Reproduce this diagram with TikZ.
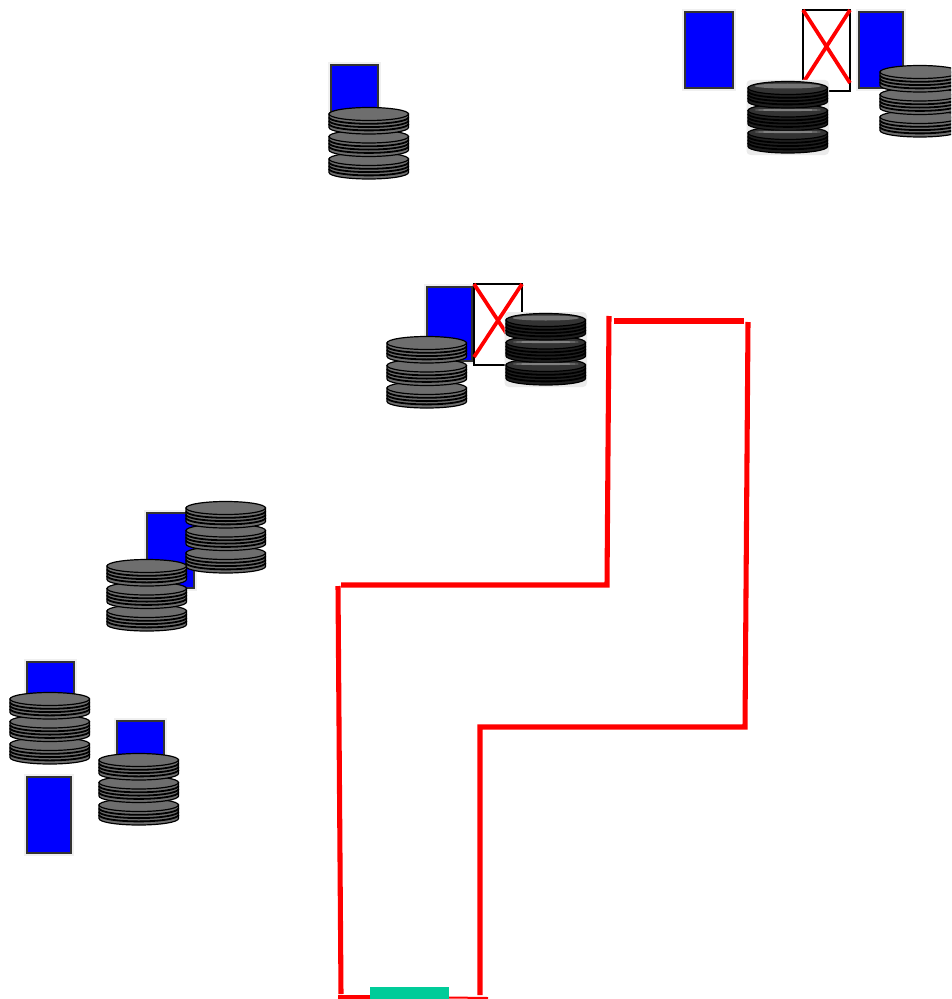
\documentclass[tikz,border=0pt]{standalone}
\usepackage{tikz}
\definecolor{rack}{HTML}{0000FF}
\definecolor{link}{HTML}{FF0000}
\definecolor{door}{HTML}{00CC99}
\definecolor{disk}{HTML}{6E6E6E}
\tikzset{
  sc/.style={x=.75pt,y=-.75pt,line width=.75pt},
  haloa/.style={draw=black!6,line width=4.5pt},
  halob/.style={draw=black!14,line width=2.2pt},
  rack/.style={fill=rack,draw=black!80,line width=.8pt},
  wire/.style={link,line width=3.8pt},
  cross/.style={link,line width=2.8pt},
  emptyrack/.style={draw=black,line width=1.3pt,fill=white},
  % one stack of three drums, (0,0) being its top left corner
  pics/drums/.style args={#1/#2/#3/#4}{code={
    \foreach \dy in {45,22.5,0}{
      \fill[#1,draw=#3,line width=#2] (0,7+\dy) -- (0,20.5+\dy) arc[x radius=39.75,y radius=6.5,start angle=180,end angle=0] -- (79.5,7+\dy) -- cycle;
      \foreach \s in {10.3,13.6,16.9}{\draw[#3,line width=1.35pt] (0,\s+\dy) arc[x radius=39.75,y radius=6.5,start angle=180,end angle=0];}
      \fill[#4,draw=#3,line width=#2] (39.75,7+\dy) ellipse[x radius=39.75,y radius=6.5];
    }
  }},
  pics/drums/.default=disk/.9pt/black/disk,
}
\newcommand{\rackbox}[4]{\draw[haloa] (#1,#2) rectangle (#3,#4);\draw[halob] (#1,#2) rectangle (#3,#4);\draw[rack] (#1,#2) rectangle (#3,#4);}
\newcommand{\deadrack}[4]{\draw[emptyrack] (#1,#2) rectangle (#3,#4);\draw[cross] (#1,#2)--(#3,#4-8) (#3,#2)--(#1,#4-8);}
\newcommand{\blurdrums}[2]{%
  \fill[black!8,rounded corners=3pt] (#1-1.5,#2) rectangle (#1+81,#2+75);
  \pic at (#1,#2+1) {drums={black!88/.9pt/black/black!80}};
  \fill[black!55] (#1+39.75,#2+6) ellipse[x radius=33,y radius=2.5];
  \foreach \dy in {30,52}{\fill[black!50] (#1+39.75,#2+\dy) ellipse[x radius=33,y radius=1.1];}
}
\begin{document}
\begin{tikzpicture}[sc]
  \useasboundingbox (0,0) rectangle (951,999);
  % top right group
  \rackbox{685}{12}{733}{88}
  \deadrack{803}{10}{850}{91}
  \rackbox{859}{12}{903}{88}
  \blurdrums{748}{80}
  \begin{scope}
    \clip (0,0) rectangle (951,999);
    \pic at (880,65) {drums};
  \end{scope}
  % upper middle
  \rackbox{331}{65}{378}{112}
  \pic at (329,107) {drums};
  % centre
  \rackbox{427}{287}{472}{361}
  \deadrack{474}{284}{522}{365}
  \pic at (387,336) {drums};
  \blurdrums{506}{312}
  % left groups
  \rackbox{147}{513}{194}{588}
  \pic at (186,501) {drums};
  \pic at (107,559) {drums};
  \rackbox{27}{662}{74}{700}
  \pic at (10,692) {drums};
  \rackbox{27}{777}{71}{853}
  \rackbox{117}{721}{164}{760}
  \pic at (99,753) {drums};
  % red walls
  \draw[wire] (609,316)--(607,585)--(341,585);
  \draw[wire] (338,586)--(341,994);
  \draw[wire] (614,321)--(744,321);
  \draw[wire] (748,322)--(745,727)--(480,727)--(480,995);
  \draw[link,line width=3pt] (338,997)--(370,997);
  \draw[link,line width=1.5pt] (449,997.5)--(488,998);
  \fill[door] (370,987) rectangle (449,999);
\end{tikzpicture}
\end{document}
